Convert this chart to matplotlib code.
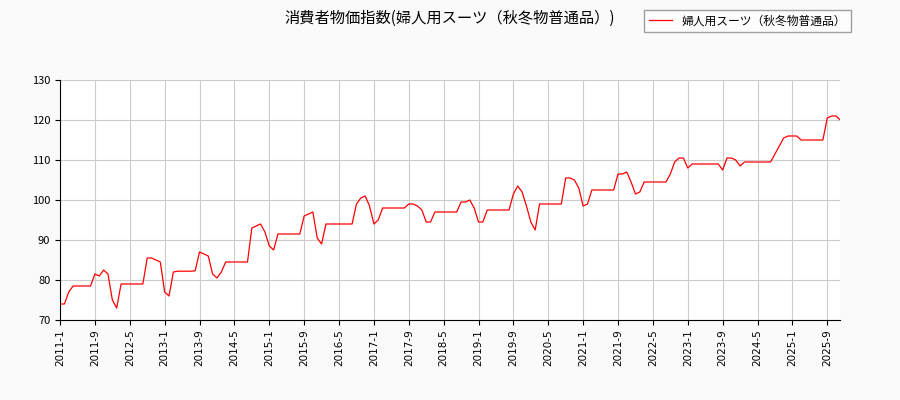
import matplotlib
matplotlib.use("Agg")
import matplotlib.pyplot as plt

plt.rcParams['font.family'] = ['Noto Sans CJK JP', 'DejaVu Sans']

years = list(range(2011, 2026))
values_by_year = {
2011: [74, 74, 77, 78.5, 78.5, 78.5, 78.5, 78.5, 81.5, 81, 82.5, 81.5],
2012: [75, 73, 79, 79, 79, 79, 79, 79, 85.5, 85.5, 85, 84.5],
2013: [77, 76, 82, 82.2, 82.2, 82.2, 82.2, 82.3, 87, 86.5, 86, 81.5],
2014: [80.5, 82, 84.5, 84.5, 84.5, 84.5, 84.5, 84.5, 93, 93.5, 94, 92],
2015: [88.5, 87.5, 91.5, 91.5, 91.5, 91.5, 91.5, 91.5, 96, 96.5, 97, 90.5],
2016: [89, 94, 94, 94, 94, 94, 94, 94, 99, 100.5, 101, 98.5],
2017: [94, 95, 98, 98, 98, 98, 98, 98, 99, 99, 98.5, 97.5],
2018: [94.5, 94.5, 97, 97, 97, 97, 97, 97, 99.5, 99.5, 100, 98],
2019: [94.5, 94.5, 97.5, 97.5, 97.5, 97.5, 97.5, 97.5, 101.5, 103.5, 102, 98.5],
2020: [94.5, 92.5, 99, 99, 99, 99, 99, 99, 105.5, 105.5, 105, 103],
2021: [98.5, 99, 102.5, 102.5, 102.5, 102.5, 102.5, 102.5, 106.5, 106.5, 107, 104.5],
2022: [101.5, 102, 104.5, 104.5, 104.5, 104.5, 104.5, 104.5, 106.5, 109.5, 110.5, 110.5],
2023: [108, 109, 109, 109, 109, 109, 109, 109, 107.5, 110.5, 110.5, 110],
2024: [108.5, 109.5, 109.5, 109.5, 109.5, 109.5, 109.5, 109.5, 111.5, 113.5, 115.5, 116],
2025: [116, 116, 115, 115, 115, 115, 115, 115, 120.5, 121, 121, 120],
}
values = [v for y in years for v in values_by_year[y]]
labels = [f"{y}-{m}" for y in years for m in range(1, 13)]

fig = plt.figure(figsize=(9, 4), dpi=100, facecolor='#fafafa')
ax = fig.add_axes([0.0667, 0.2, 0.867, 0.6])
x = list(range(len(values)))
ax.plot(x, values, color='red', linewidth=0.9, label='婦人用スーツ（秋冬物普通品）')
ax.set_xlim(0, len(values) - 1)
ax.set_ylim(70, 130)
ax.set_yticks(range(70, 131, 10))
ax.set_xticks(x[::8])
ax.set_xticklabels(labels[::8], rotation=90, fontsize=7.5, family='DejaVu Sans')
ax.tick_params(axis='y', labelsize=8)
ax.grid(True, color='#cccccc', linewidth=0.8)
ax.set_axisbelow(True)
for s in ['top', 'right']:
    ax.spines[s].set_visible(False)
fig.text(0.5, 0.955, '消費者物価指数(婦人用スーツ（秋冬物普通品）)', ha='center', va='center', fontsize=11)
fig.legend(loc='upper right', bbox_to_anchor=(0.952, 0.99), fontsize=8.5, frameon=True,
           fancybox=False, edgecolor='#888888')
fig.savefig('out.png', facecolor=fig.get_facecolor())
